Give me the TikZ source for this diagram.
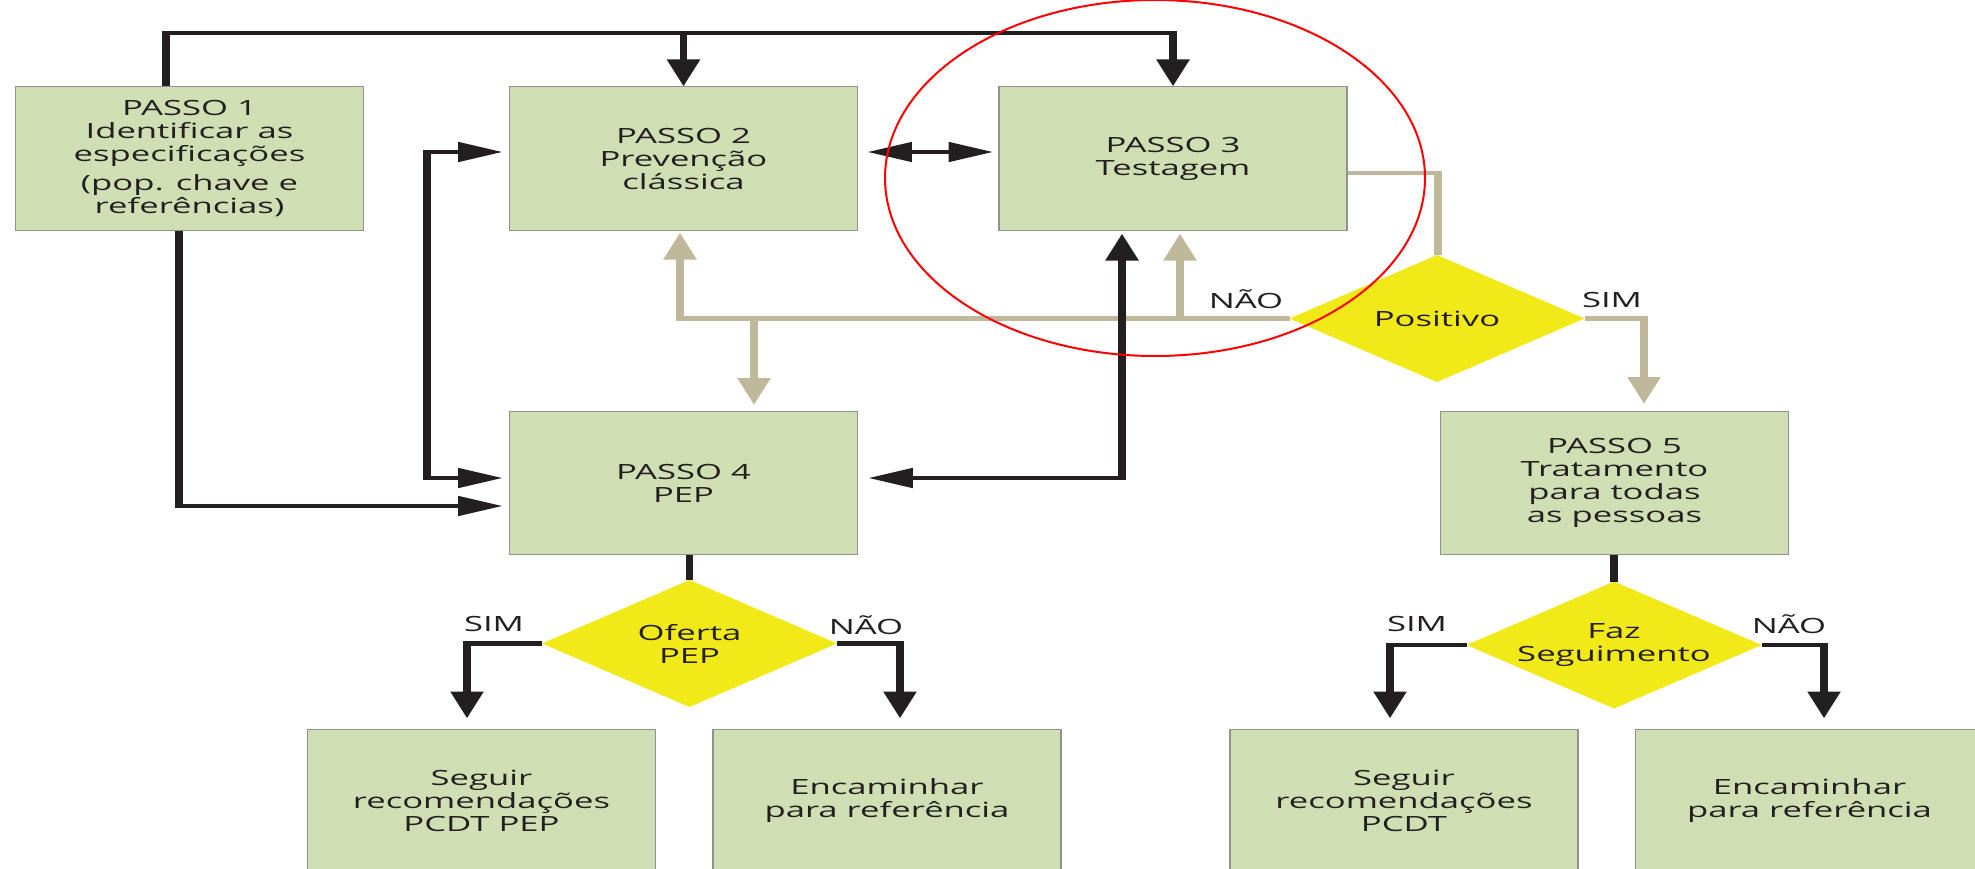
\documentclass[tikz,border=0pt]{standalone}
\usepackage{fontspec}
\setmainfont{Open Sans}
\usetikzlibrary{shapes.geometric, arrows.meta}

\definecolor{boxgreen}{RGB}{207,223,179}
\definecolor{boxedge}{RGB}{145,145,145}
\definecolor{decyellow}{RGB}{242,234,24}
\definecolor{ink}{RGB}{35,31,32}
\definecolor{sand}{RGB}{191,184,154}

\tikzset{
  txt/.style={text=ink, font=\fontsize{21}{23}\selectfont},
  stepbox/.style={txt, rectangle, draw=boxedge, line width=1pt, fill=boxgreen,
    minimum width=210.9pt, minimum height=143pt, inner sep=0pt, align=center},
  decision/.style={diamond, fill=decyellow, minimum width=178.8pt,
    minimum height=127pt, inner sep=0pt, outer sep=0pt},
  dlabel/.style={txt, align=center, inner sep=0pt},
  branch/.style={txt, inner sep=0pt},
  blk/.style={draw=ink, line width=4.5pt},
  snd/.style={draw=sand, line width=4.5pt},
  tipone/.style={-{Triangle[length=27pt,width=19pt]}},
  tiptwo/.style={{Triangle[length=27pt,width=19pt]}-{Triangle[length=27pt,width=19pt]}},
}

\begin{document}
\begin{tikzpicture}[x=1pt, y=-1pt]
\path[use as bounding box, fill=white] (0,0) rectangle (1975,869);

% the whole chart is set horizontally widened
\begin{scope}[transform canvas={xscale=1.65}, x=0.606061pt, y=-1pt]

  % steps
  \node[stepbox] (p1) at (189.5,158.5) {PASSO 1\\Identificar as\\especificações\\[6pt](pop. chave e\\referências)};
  \node[stepbox] (p2) at (683.5,158.5) {PASSO 2\\Prevenção\\clássica};
  \node[stepbox] (p3) at (1173,158.5) {PASSO 3\\Testagem};
  \node[stepbox] (p4) at (683.5,483) {PASSO 4\\PEP};
  \node[stepbox] (p5) at (1614.5,483) {PASSO 5\\Tratamento\\para todas\\as pessoas};
  \node[stepbox] (b1) at (481.5,800.5) {Seguir\\recomendações\\PCDT PEP};
  \node[stepbox] (b2) at (887,800.5) {Encaminhar\\para referência};
  \node[stepbox] (b3) at (1404,800.5) {Seguir\\recomendações\\PCDT};
  \node[stepbox] (b4) at (1809.5,800.5) {Encaminhar\\para referência};

  % decisions
  \node[decision] (pos) at (1437,318.5) {};
  \node[dlabel] (pos-t) at (pos.center) {Positivo};
  \node[decision] (ofe) at (689.5,643.5) {};
  \node[dlabel] (ofe-t) at (ofe.center) {Oferta\\PEP};
  \node[decision] (faz) at (1614,645) {};
  \node[dlabel] (faz-t) at (faz.center) {Faz\\Seguimento};

  % bends
  \coordinate (k1) at (166,33);
  \coordinate (k2) at (179,506);
  \coordinate (k3) at (427,152);
  \coordinate (k4) at (427,478);
  \coordinate (k5) at (1122,478);
  \coordinate (s1) at (1438,173);
  \coordinate (s2) at (680,318.5);
  \coordinate (s3) at (754,318.5);
  \coordinate (s4) at (1180,318.5);
  \coordinate (s5) at (1644,318.5);
  \coordinate (c1) at (467,643.5);
  \coordinate (c2) at (900,643.5);
  \coordinate (c3) at (1390,645);
  \coordinate (c4) at (1824,645);

  % result of the test
  \draw[snd] (p3.east |- s1) -- (s1) -- (s1 |- pos.north);
  \draw[snd, tipone, shorten >=2pt] (pos.west) -- (s2) -- (s2 |- p2.south);
  \draw[snd, tipone, shorten >=3pt] (s4) -- (s4 |- p3.south);
  \draw[snd, tipone, shorten >=6pt] (s3) -- (s3 |- p4.north);
  \draw[snd, tipone, shorten >=7pt] (pos.east) -- (s5) -- (s5 |- p5.north);

  % links between the steps
  \draw[blk, tipone] (k1 |- p1.north) -- (k1) -| (p3.north);
  \draw[blk, tipone] (k1 -| p2.north) -- (p2.north);
  \draw[blk, tipone, shorten >=3.6pt] (k2 |- p1.south) -- (k2) -- (k2 -| p4.west);
  \draw[blk, tiptwo, shorten <=3.6pt, shorten >=3.6pt] (k3 -| p2.west) -- (k3) -- (k4) -- (k4 -| p4.west);
  \draw[blk, tiptwo, shorten <=5.5pt, shorten >=3pt] (k3 -| p2.east) -- (k3 -| p3.west);
  \draw[blk, tiptwo, shorten <=6pt, shorten >=3pt] (k5 -| p4.east) -- (k5) -- (k5 |- p3.south);

  % PEP branch
  \draw[blk] (p4.south -| ofe.north) -- (ofe.north);
  \draw[blk, tipone, shorten >=10pt] (ofe.west) -- (c1) -- (c1 |- b1.north);
  \draw[blk, tipone, shorten >=10pt] (ofe.east) -- (c2) -- (c2 |- b2.north);

  % treatment branch
  \draw[blk] (p5.south -| faz.north) -- (faz.north);
  \draw[blk, tipone, shorten >=10pt] (faz.west) -- (c3) -- (c3 |- b3.north);
  \draw[blk, tipone, shorten >=10pt] (faz.east) -- (c4) -- (c4 |- b4.north);

  % branch labels
  \node[branch] (l-nao1) at (1246,299) {NÃO};
  \node[branch] (l-sim1) at (1612,300) {SIM};
  \node[branch] (l-sim2) at (494,624) {SIM};
  \node[branch] (l-nao2) at (866,625) {NÃO};
  \node[branch] (l-sim3) at (1417,624) {SIM};
  \node[branch] (l-nao3) at (1789,624) {NÃO};
\end{scope}

% highlight round the testing step
\draw[red, line width=2pt] (1155,178) ellipse [x radius=270pt, y radius=178pt];
\end{tikzpicture}
\end{document}
